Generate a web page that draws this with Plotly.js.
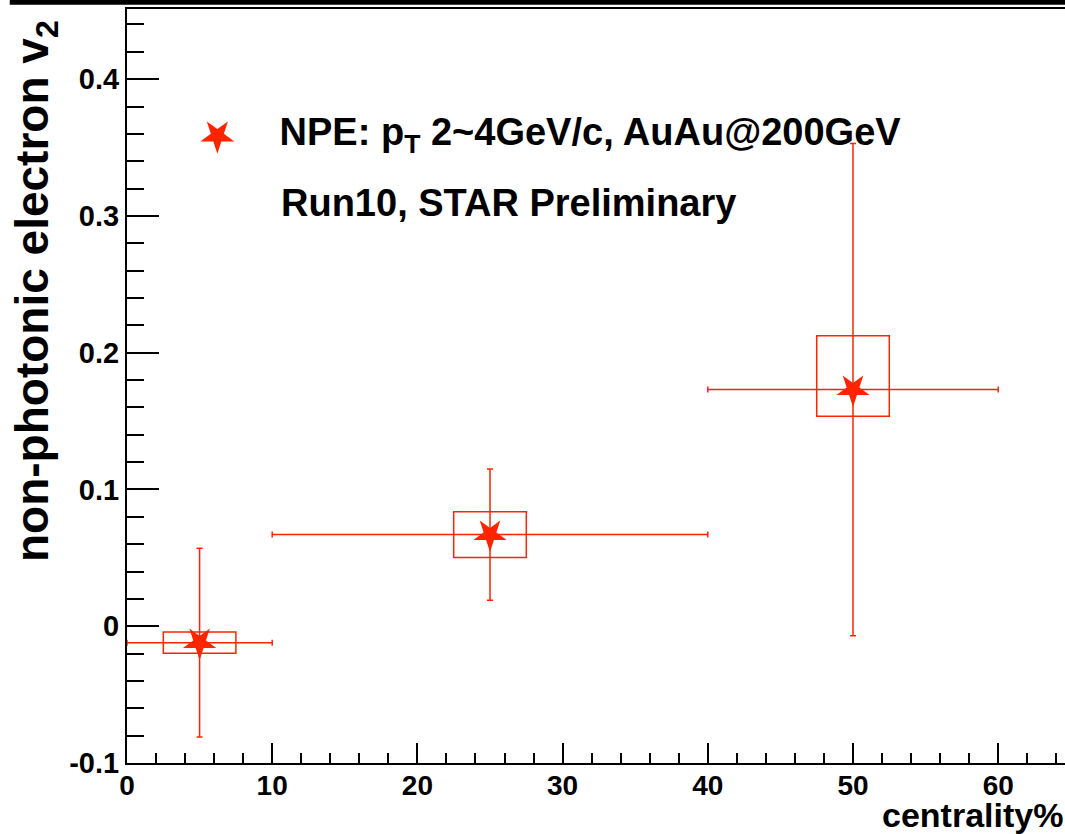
<!DOCTYPE html>
<html>
<head>
<meta charset="utf-8">
<script src="https://cdn.plot.ly/plotly-3.0.1.min.js"></script>
<style>html,body{margin:0;padding:0;background:#fff;overflow:hidden}</style>
</head>
<body>
<div id="chart" style="width:1065px;height:834px"></div>
<script>
// ---- data ----
const centrality = [5, 25, 50];              // bin centre (%)
const binHalfWidth = [5, 15, 10];            // horizontal error (bin half width)
const v2 = [-0.012, 0.067, 0.173];           // NPE v2
const statErr = [0.069, 0.048, 0.180];       // statistical error
const sysErrUp = [0.0077, 0.0167, 0.0394];   // systematic error, upper
const sysErrDown = [0.0077, 0.0167, 0.0195]; // systematic error, lower
const sysBoxHalfWidth = [2.5, 2.5, 2.5];     // box half width (%)

const xTickVals = [0, 10, 20, 30, 40, 50, 60];
const xTickText = ['0', '10', '20', '30', '40', '50', '60'];
const yTickVals = [-0.1, 0, 0.1, 0.2, 0.3, 0.4];
const yTickText = ['-0.1', '0', '0.1', '0.2', '0.3', '0.4'];

const seriesName = 'NPE: p<sub>T</sub> 2~4GeV/c, AuAu@200GeV';
const subLabel = 'Run10, STAR Preliminary';
const xTitle = 'centrality%';
const yTitle = 'non-photonic electron v<sub>2</sub>';

const RED = '#ff2400';
const FONT = 'Liberation Sans, Arial, sans-serif';

const trace = {
  x: centrality,
  y: v2,
  type: 'scatter',
  mode: 'markers',
  name: '\u00a0\u00a0\u00a0\u00a0' + seriesName,
  marker: {symbol: 'star', angle: 180, size: 25, color: RED, line: {width: 0}},
  error_x: {type: 'data', array: binHalfWidth, visible: true, color: RED, thickness: 1.5, width: 3},
  error_y: {type: 'data', array: statErr, visible: true, color: RED, thickness: 1.5, width: 3},
  showlegend: true
};

const shapes = centrality.map((c, i) => ({
  type: 'rect', xref: 'x', yref: 'y', layer: 'below',
  x0: c - sysBoxHalfWidth[i], x1: c + sysBoxHalfWidth[i],
  y0: v2[i] - sysErrDown[i], y1: v2[i] + sysErrUp[i],
  line: {color: RED, width: 1.5}, fillcolor: 'rgba(0,0,0,0)'
}));
// thick page border line at the top
shapes.push({type: 'rect', xref: 'paper', yref: 'paper', x0: -0.125, x1: 1.01, y0: 1.0055, y1: 1.013,
  line: {width: 0}, fillcolor: '#000'});

const layout = {
  width: 1065, height: 834,
  margin: {l: 127, r: 0, t: 9, b: 71},
  paper_bgcolor: '#fff', plot_bgcolor: '#fff',
  font: {family: FONT, color: '#000'},
  showlegend: true,
  legend: {x: 0.075, y: 0.881, xanchor: 'left', yanchor: 'top', bgcolor: 'rgba(0,0,0,0)',
    font: {family: FONT, size: 38, weight: 'bold', color: '#000'}, borderwidth: 0, itemwidth: 30},
  xaxis: {
    range: [0, 64.6], tickvals: xTickVals, ticktext: xTickText,
    ticks: 'inside', ticklen: 20, tickwidth: 2, tickcolor: '#000',
    minor: {dtick: 2, tick0: 0, ticks: 'inside', ticklen: 10, tickwidth: 2, tickcolor: '#000', showgrid: false},
    showline: true, linewidth: 2, linecolor: '#000', mirror: true,
    showgrid: false, zeroline: false, ticklabelstandoff: -4,
    tickfont: {family: FONT, size: 28, weight: 'bold', color: '#000'}
  },
  yaxis: {
    range: [-0.1, 0.4513], tickvals: yTickVals, ticktext: yTickText,
    ticks: 'inside', ticklen: 32, tickwidth: 2, tickcolor: '#000',
    minor: {dtick: 0.02, tick0: 0, ticks: 'inside', ticklen: 17, tickwidth: 2, tickcolor: '#000', showgrid: false},
    showline: true, linewidth: 2, linecolor: '#000',
    showgrid: false, zeroline: false, ticklabelstandoff: 0,
    tickfont: {family: FONT, size: 29, weight: 'bold', color: '#000'}
  },
  shapes: shapes,
  annotations: [
    {text: subLabel, xref: 'paper', yref: 'paper', x: 0.162, y: 0.743, xanchor: 'left', yanchor: 'middle',
      showarrow: false, font: {family: FONT, size: 38, weight: 'bold', color: '#000'}},
    {text: xTitle, xref: 'paper', yref: 'paper', x: 1, y: -0.069, xanchor: 'right', yanchor: 'middle',
      showarrow: false, font: {family: FONT, size: 34, weight: 'bold', color: '#000'}},
    {text: yTitle, xref: 'paper', yref: 'paper', x: -0.097, y: 0.626, xanchor: 'center', yanchor: 'middle',
      textangle: -90, showarrow: false, font: {family: FONT, size: 46, weight: 'bold', color: '#000'}}
  ]
};

Plotly.newPlot('chart', [trace], layout, {staticPlot: true, displayModeBar: false}).then(() => {
  // enlarge the legend key star to the size of the plotted markers
  document.querySelectorAll('.legend .legendpoints path.scatterpts').forEach(p => {
    const t = p.getAttribute('transform') || '';
    p.setAttribute('transform', t + ' translate(0,6) scale(1.6)');
  });
});
</script>
</body>
</html>
